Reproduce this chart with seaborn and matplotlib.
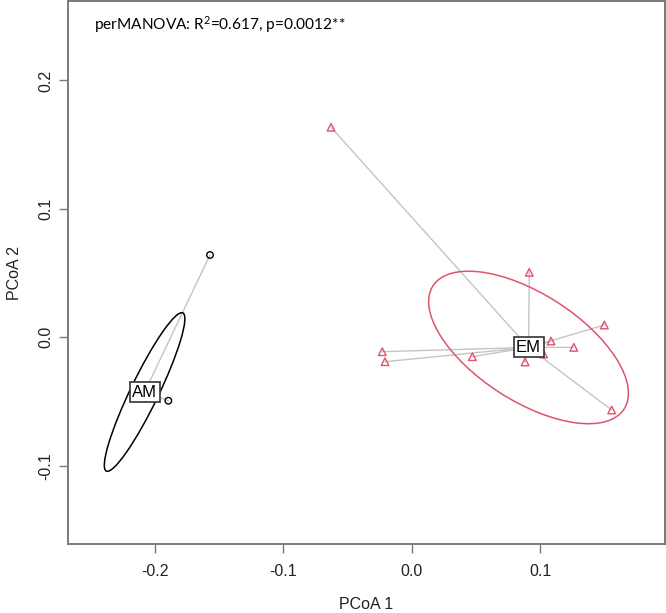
import numpy as np
import pandas as pd
import matplotlib
matplotlib.use("Agg")
import matplotlib.pyplot as plt
from matplotlib.patches import Ellipse
import seaborn as sns

# ---- data ----
groups = ["AM", "EM"]
am_x = [-0.1570, -0.1894]
am_y = [0.0641, -0.0494]
em_x = [0.0915, 0.1499, 0.1084, 0.1261, -0.0229, -0.0208, 0.0472, 0.0882, 0.1556, -0.0628, 0.1026]
em_y = [0.0506, 0.0096, -0.0029, -0.0078, -0.0112, -0.0190, -0.0151, -0.0192, -0.0566, 0.1636, -0.0130]
centroid_x = [-0.2079, 0.0909]
centroid_y = [-0.0426, -0.0079]
ell_a = [0.0684, 0.0885]      # semi-major
ell_b = [0.0109, 0.0417]      # semi-minor
ell_angle = [64.2, -32.8]     # degrees
x_ticks = [-0.2, -0.1, 0.0, 0.1]
y_ticks = [-0.1, 0.0, 0.1, 0.2]
annot = "perMANOVA: R$^2$=0.617, p=0.0012**"

df = pd.DataFrame({
    "x": am_x + em_x,
    "y": am_y + em_y,
    "group": ["AM"] * len(am_x) + ["EM"] * len(em_x),
})

colors = {"AM": "#000000", "EM": "#DF536B"}
markers = {"AM": "o", "EM": "^"}

sns.set_style("ticks")
plt.rcParams["font.family"] = "sans-serif"
plt.rcParams["font.sans-serif"] = ["Liberation Sans"]
plt.rcParams["mathtext.fontset"] = "custom"
plt.rcParams["mathtext.rm"] = "Lato"

fig = plt.figure(figsize=(6.66, 6.13), dpi=100)
ax = fig.add_axes([68 / 666, 1 - 544.3 / 613, (665 - 68) / 666, (544.3 - 1) / 613])

# spider lines
for gi, g in enumerate(groups):
    sub = df[df.group == g]
    for _, r in sub.iterrows():
        ax.plot([centroid_x[gi], r.x], [centroid_y[gi], r.y], color="#c4c4c4", lw=1.0, zorder=1)

# ellipses
for gi, g in enumerate(groups):
    e = Ellipse((centroid_x[gi], centroid_y[gi]), 2 * ell_a[gi], 2 * ell_b[gi],
                angle=ell_angle[gi], fill=False, edgecolor=colors[g], lw=1.1, zorder=2)
    ax.add_patch(e)

# points
for g in groups:
    sub = df[df.group == g]
    sns.scatterplot(data=sub, x="x", y="y", ax=ax, marker=markers[g],
                    facecolor="none", edgecolor=colors[g], linewidth=1.0,
                    s=22 if g == "AM" else 30, zorder=3, legend=False)

# centroid labels
for gi, g in enumerate(groups):
    ax.text(centroid_x[gi], centroid_y[gi], g, ha="center", va="center", fontsize=12,
            color="black", zorder=5,
            bbox=dict(boxstyle="square,pad=0.15", facecolor="white", edgecolor="#333333", lw=1.2))

ax.text(0.0436, 0.956, annot, transform=ax.transAxes, fontsize=11.1, family="Lato",
        ha="left", va="center", color="black")

ax.set_xlim(-0.2675, 0.1971)
ax.set_ylim(-0.1612, 0.2619)
ax.set_xticks(x_ticks)
ax.set_yticks(y_ticks)
ax.set_xticklabels([f"{v:.1f}" for v in x_ticks])
ax.set_yticklabels([f"{v:.1f}" for v in y_ticks], rotation=90, va="center")
ax.set_xlabel("PCoA 1", fontsize=11.5, labelpad=12.5, color="#222222")
ax.set_ylabel("PCoA 2", fontsize=11.5, labelpad=12, color="#222222")
for s in ax.spines.values():
    s.set_color("#7a7a7a")
    s.set_linewidth(1.4)
ax.tick_params(axis="both", length=6.5, width=1.0, color="#7a7a7a", labelsize=11.5, labelcolor="#222222", pad=8)
ax.tick_params(axis="y", pad=4)

fig.savefig("out.png", dpi=100)
